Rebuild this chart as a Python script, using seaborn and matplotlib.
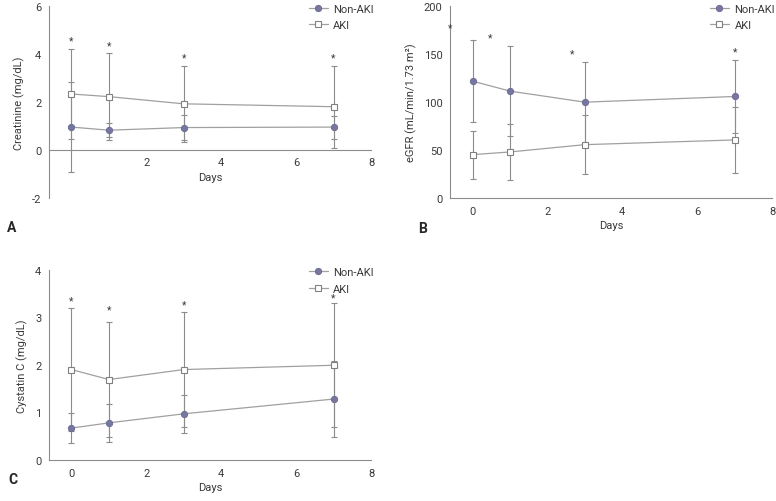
import numpy as np
import pandas as pd
import matplotlib
matplotlib.use("Agg")
import matplotlib.pyplot as plt
import seaborn as sns

# data (mean, SD) at days 0, 1, 3, 7
days = [0, 1, 3, 7]

cr_non = [0.95, 0.82, 0.93, 0.95]
cr_non_sd = [1.88, 0.29, 0.53, 0.48]
cr_aki = [2.33, 2.22, 1.92, 1.80]
cr_aki_sd = [1.88, 1.81, 1.59, 1.71]
cr_star = [4.55, 4.37, 3.86, 3.86]

egfr_non = [121.9, 111.5, 100.0, 105.9]
egfr_non_sd = [43, 47, 42, 38]
egfr_aki = [45.4, 48.2, 55.8, 60.7]
egfr_aki_sd = [25, 29, 31, 34]
egfr_star_x = [-0.6, 0.46, 2.65, 7]
egfr_star = [178, 167, 151, 153]

cys_non = [0.67, 0.78, 0.97, 1.28]
cys_non_sd = [0.31, 0.40, 0.40, 0.80]
cys_aki = [1.90, 1.69, 1.90, 1.99]
cys_aki_sd = [1.29, 1.20, 1.20, 1.30]
cys_star = [3.36, 3.17, 3.27, 3.42]

sns.set_style("white")
plt.rcParams["font.family"] = ["Roboto", "DejaVu Sans"]
plt.rcParams["font.size"] = 7.5
plt.rcParams["axes.unicode_minus"] = False

grey = "#8c8c8c"
purple = "#7676a2"
txt = "#3a3a3a"

fig = plt.figure(figsize=(7.76, 5.02), dpi=100)
axA = fig.add_axes([0.0631, 0.604, 0.415, 0.382])
axB = fig.add_axes([0.580, 0.603, 0.415, 0.383])
axC = fig.add_axes([0.0631, 0.0817, 0.415, 0.3793])


def panel(ax, non, non_sd, aki, aki_sd, star_x, star_y, ylim, yticks, xticks, ylabel):
    df = pd.DataFrame({"day": days * 2,
                       "val": non + aki,
                       "sd": non_sd + aki_sd,
                       "group": ["Non-AKI"] * 4 + ["AKI"] * 4})
    for g in ["Non-AKI", "AKI"]:
        d = df[df.group == g]
        ax.errorbar(d.day, d.val, yerr=d.sd, fmt="none", ecolor=grey,
                    elinewidth=0.8, capsize=2, capthick=0.8, zorder=1)
    sns.lineplot(data=df[df.group == "Non-AKI"], x="day", y="val", ax=ax,
                 color="#a0a0a0", lw=0.9, marker="o", markersize=4.6,
                 markerfacecolor=purple, markeredgecolor="#6a6a90",
                 markeredgewidth=0.6, label="Non-AKI", zorder=3)
    sns.lineplot(data=df[df.group == "AKI"], x="day", y="val", ax=ax,
                 color="#a0a0a0", lw=0.9, marker="s", markersize=4.6,
                 markerfacecolor="white", markeredgecolor="#808080",
                 markeredgewidth=0.8, label="AKI", zorder=3)
    for sx, sy in zip(star_x, star_y):
        ax.text(sx, sy, "*", ha="center", va="center", fontsize=7.5, color=txt)
    ax.set_xlim(-0.6, 8)
    ax.set_ylim(*ylim)
    ax.set_yticks(yticks)
    ax.set_xticks(xticks)
    ax.set_xlabel("Days", color=txt, labelpad=3, fontsize=8)
    ax.set_ylabel(ylabel, color=txt, labelpad=5, fontsize=8)
    for s in ["top", "right"]:
        ax.spines[s].set_visible(False)
    for s in ["left", "bottom"]:
        ax.spines[s].set_color(grey)
        ax.spines[s].set_linewidth(0.8)
    ax.spines["bottom"].set_position(("data", 0))
    ax.tick_params(axis="both", colors=grey, labelcolor=txt, length=3,
                   width=0.8, labelsize=8, pad=2.5)
    ax.legend(loc="upper right", bbox_to_anchor=(1.04, 1.065), frameon=False,
              handlelength=1.7, handletextpad=0.5, labelspacing=0.6,
              fontsize=8, labelcolor=txt)


panel(axA, cr_non, cr_non_sd, cr_aki, cr_aki_sd, days, cr_star,
      (-2, 6), [-2, 0, 2, 4, 6], [2, 4, 6, 8], "Creatinine (mg/dL)")
panel(axB, egfr_non, egfr_non_sd, egfr_aki, egfr_aki_sd, egfr_star_x, egfr_star,
      (0, 200), [0, 50, 100, 150, 200], [0, 2, 4, 6, 8], "eGFR (mL/min/1.73 m²)")
panel(axC, cys_non, cys_non_sd, cys_aki, cys_aki_sd, days, cys_star,
      (0, 4), [0, 1, 2, 3, 4], [0, 2, 4, 6, 8], "Cystatin C (mg/dL)")

fig.text(12 / 776, 1 - 228 / 502, "A", fontsize=10, fontweight="bold", ha="center", va="center")
fig.text(423 / 776, 1 - 229 / 502, "B", fontsize=10, fontweight="bold", ha="center", va="center")
fig.text(13 / 776, 1 - 480 / 502, "C", fontsize=10, fontweight="bold", ha="center", va="center")

fig.savefig("out.png", dpi=100)
